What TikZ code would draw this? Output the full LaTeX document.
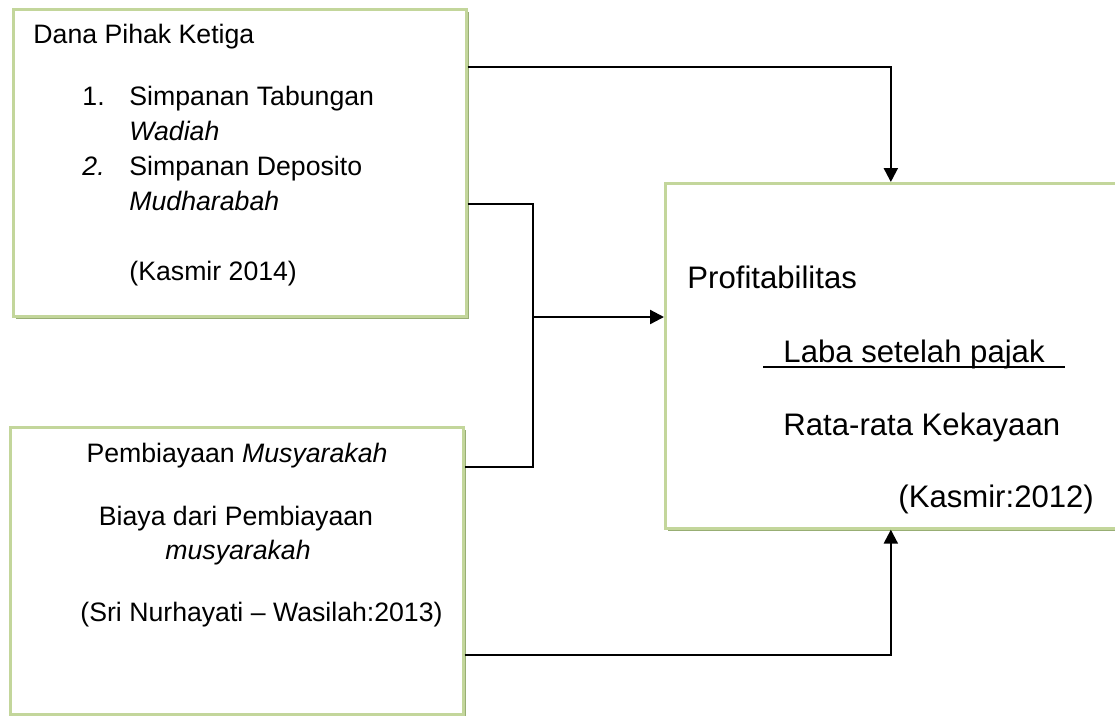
\documentclass[tikz,border=0pt]{standalone}
\usepackage{fontspec}
\setmainfont{Liberation Sans}
\usetikzlibrary{arrows.meta,shadows}

\definecolor{hijau}{RGB}{195,214,155}
\definecolor{bayang}{RGB}{152,174,116}

\tikzset{
  kotak/.style={draw=hijau, line width=1.2pt, fill=white, anchor=north west, inner sep=0pt,
    drop shadow={fill=bayang, opacity=1, shadow xshift=1.3pt, shadow yshift=-1.3pt}},
  teks/.style={anchor=base west, inner sep=0pt, font=\fontsize{12}{14}\selectfont},
  tekstengah/.style={teks, anchor=base},
  teksbesar/.style={anchor=base west, inner sep=0pt, font=\fontsize{14}{17}\selectfont},
  garis/.style={line width=0.65pt},
  panah/.style={line width=1pt, -{Triangle[length=6.3pt,width=6.3pt]}},
}

\begin{document}
\begin{tikzpicture}[x=0.45pt, y=-0.45pt]
	\useasboundingbox (0,0) rectangle (1115,715);

	% kotak-kotak
	\node[kotak, minimum width=203.85pt, minimum height=138.15pt] (dpk) at (12,8) {};
	\node[kotak, minimum width=203.85pt, minimum height=129.15pt] (mus) at (9,426) {};
	\node[kotak, minimum width=202.95pt, minimum height=155.25pt] (prof) at (664,182) {};

	% dana pihak ketiga
	\node[teks] (dpkjudul) at (33,43) {Dana Pihak Ketiga};
	\node[teks] (no1) at (82,105) {1.};
	\node[teks] (tab) at (129,105) {Simpanan Tabungan};
	\node[teks] (wad) at (129,140) {\itshape Wadiah};
	\node[teks] (no2) at (82,175) {\itshape 2.};
	\node[teks] (dep) at (129,175) {Simpanan Deposito};
	\node[teks] (mud) at (129,210) {\itshape Mudharabah};
	\node[teks] (kas1) at (129,280) {(Kasmir 2014)};

	% pembiayaan musyarakah
	\node[tekstengah] (musjudul) at (237,462) {Pembiayaan \textit{Musyarakah}};
	\node[tekstengah] (biaya) at (236,525) {Biaya dari Pembiayaan};
	\node[tekstengah] (biaya2) at (238,559) {\itshape musyarakah};
	\node[teks] (sri) at (80,621) {(Sri Nurhayati -- Wasilah:2013)};

	% profitabilitas
	\node[teksbesar] (profjudul) at (687,288) {Profitabilitas};
	\node[teksbesar] (laba) at (783,362) {Laba setelah pajak};
	\draw[garis] (763,367) -- (1065,367);
	\node[teksbesar] (rata) at (783,435) {Rata-rata Kekayaan};
	\node[teksbesar] (kas2) at (898,507) {(Kasmir:2012)};

	% panah
	\draw[panah] (dpk.east |- 0,67) -| (prof.north);
	\coordinate (gabung) at (533,317);
	\draw[garis] (dpk.east |- 0,204) -| (gabung) |- (mus.east |- 0,467);
	\draw[panah] (gabung) -- (prof.west |- gabung);
	\draw[panah] (mus.east |- 0,655) -| (prof.south);

\end{tikzpicture}
\end{document}
